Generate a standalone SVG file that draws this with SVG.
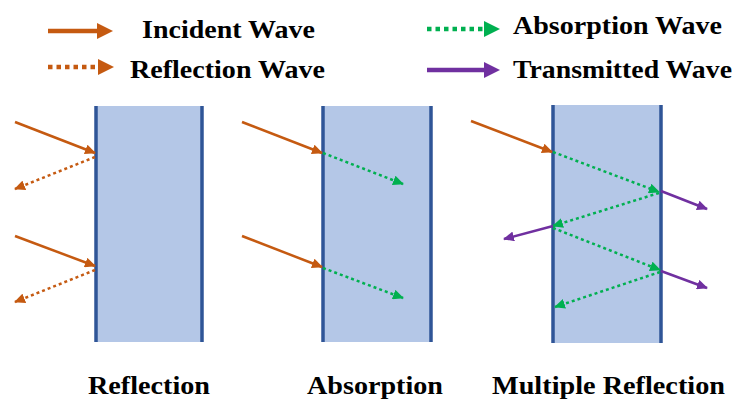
<svg xmlns="http://www.w3.org/2000/svg" width="737" height="400" viewBox="0 0 737 400">
<style>
.t{font-weight:bold;font-size:25px;fill:#000}
.slab{fill:#B4C7E7}
.edge{stroke:#2F5597;stroke-width:3.5}
.o{stroke:#C55A11;fill:none}
.g{stroke:#00B050;fill:none}
.p{stroke:#7030A0;fill:none}
.thin{stroke-width:2.5}
.thick{stroke-width:4.5}
.dot{stroke-dasharray:3 3}
.dotL{stroke-dasharray:4.5 4}
</style>
<defs>
<marker id="hO" markerUnits="userSpaceOnUse" markerWidth="11" markerHeight="10" refX="10" refY="5" orient="auto"><path d="M0,0 L11,5 L0,10 z" fill="#C55A11"/></marker>
<marker id="hG" markerUnits="userSpaceOnUse" markerWidth="11" markerHeight="10" refX="10" refY="5" orient="auto"><path d="M0,0 L11,5 L0,10 z" fill="#00B050"/></marker>
<marker id="hP" markerUnits="userSpaceOnUse" markerWidth="11" markerHeight="10" refX="10" refY="5" orient="auto"><path d="M0,0 L11,5 L0,10 z" fill="#7030A0"/></marker>
<marker id="LO" markerUnits="userSpaceOnUse" markerWidth="16" markerHeight="16" refX="0" refY="8" orient="auto"><path d="M0,0 L16,8 L0,16 z" fill="#C55A11"/></marker>
<marker id="LG" markerUnits="userSpaceOnUse" markerWidth="16" markerHeight="16" refX="0" refY="8" orient="auto"><path d="M0,0 L16,8 L0,16 z" fill="#00B050"/></marker>
<marker id="LP" markerUnits="userSpaceOnUse" markerWidth="16" markerHeight="16" refX="0" refY="8" orient="auto"><path d="M0,0 L16,8 L0,16 z" fill="#7030A0"/></marker>
</defs>

<g id="legend" font-family="Liberation Serif, DejaVu Serif, serif">
<line class="o thick" x1="48" y1="31" x2="97" y2="31" marker-end="url(#LO)"/>
<text class="t" x="142" y="38" textLength="173" lengthAdjust="spacingAndGlyphs">Incident Wave</text>
<line class="o thick dotL" x1="48" y1="67" x2="98" y2="67" marker-end="url(#LO)"/>
<text class="t" x="130" y="78" textLength="195" lengthAdjust="spacingAndGlyphs">Reflection Wave</text>
<line class="g thick dotL" x1="427" y1="29" x2="484" y2="29" marker-end="url(#LG)"/>
<text class="t" x="513" y="34" textLength="209" lengthAdjust="spacingAndGlyphs">Absorption Wave</text>
<line class="p thick" x1="427" y1="70" x2="484" y2="70" marker-end="url(#LP)"/>
<text class="t" x="513" y="78" textLength="219" lengthAdjust="spacingAndGlyphs">Transmitted Wave</text>
</g>

<g id="panel-reflection" font-family="Liberation Serif, DejaVu Serif, serif">
<rect class="slab" x="96" y="106" width="106" height="236"/>
<line class="edge" x1="96" y1="106" x2="96" y2="342"/>
<line class="edge" x1="202" y1="106" x2="202" y2="342"/>
<text class="t" x="88" y="394" textLength="122" lengthAdjust="spacingAndGlyphs">Reflection</text>
</g>

<g id="panel-absorption" font-family="Liberation Serif, DejaVu Serif, serif">
<rect class="slab" x="323" y="106" width="108" height="236"/>
<line class="edge" x1="323" y1="106" x2="323" y2="342"/>
<line class="edge" x1="431" y1="106" x2="431" y2="342"/>
<text class="t" x="307" y="394" textLength="136" lengthAdjust="spacingAndGlyphs">Absorption</text>
</g>

<g id="panel-multiple" font-family="Liberation Serif, DejaVu Serif, serif">
<rect class="slab" x="553" y="105" width="108" height="238"/>
<line class="edge" x1="553" y1="105" x2="553" y2="343"/>
<line class="edge" x1="661" y1="105" x2="661" y2="343"/>
<text class="t" x="492" y="394" textLength="233" lengthAdjust="spacingAndGlyphs">Multiple Reflection</text>
</g>

<g id="connectors">
<line class="o thin" x1="15" y1="122" x2="95" y2="153" marker-end="url(#hO)"/>
<line class="o thin dot" x1="95" y1="157" x2="15" y2="189" marker-end="url(#hO)"/>
<line class="o thin" x1="15" y1="236" x2="95" y2="266" marker-end="url(#hO)"/>
<line class="o thin dot" x1="95" y1="270" x2="15" y2="302" marker-end="url(#hO)"/>

<line class="o thin" x1="242" y1="122" x2="322" y2="153" marker-end="url(#hO)"/>
<line class="g thin dot" x1="323" y1="153" x2="403" y2="184" marker-end="url(#hG)"/>
<line class="o thin" x1="242" y1="236" x2="322" y2="267" marker-end="url(#hO)"/>
<line class="g thin dot" x1="323" y1="268" x2="403" y2="298" marker-end="url(#hG)"/>

<line class="o thin" x1="471" y1="121" x2="552" y2="152" marker-end="url(#hO)"/>
<line class="g thin dot" x1="553" y1="152" x2="659" y2="192" marker-end="url(#hG)"/>
<line class="p thin" x1="661" y1="191" x2="707" y2="209" marker-end="url(#hP)"/>
<line class="g thin dot" x1="659" y1="193" x2="553" y2="226" marker-end="url(#hG)"/>
<line class="p thin" x1="553" y1="226" x2="504" y2="239" marker-end="url(#hP)"/>
<line class="g thin dot" x1="553" y1="228" x2="660" y2="270" marker-end="url(#hG)"/>
<line class="p thin" x1="661" y1="271" x2="707" y2="288" marker-end="url(#hP)"/>
<line class="g thin dot" x1="660" y1="272" x2="555" y2="307" marker-end="url(#hG)"/>
</g>
</svg>
